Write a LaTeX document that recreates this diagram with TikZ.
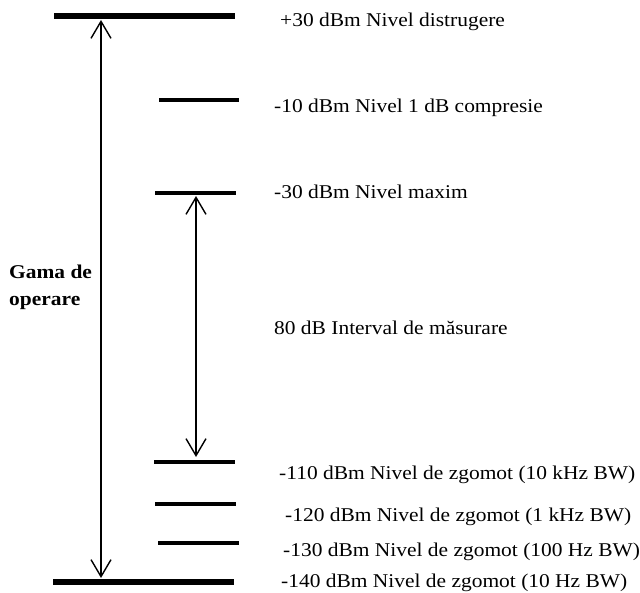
\documentclass[tikz,border=0pt]{standalone}
\usepackage{fontspec}
\setmainfont[FakeStretch=1.1]{Liberation Serif}
\usetikzlibrary{arrows.meta}
\begin{document}
\begin{tikzpicture}[x=1pt,y=-1pt,
  thickbar/.style={line width=6pt},
  thinbar/.style={line width=4pt},
  dimarrow/.style={line width=1.4pt,{Straight Barb[length=17pt,width=20pt,line width=1.4pt]}-{Straight Barb[length=17pt,width=20pt,line width=1.4pt]}},
  lbl/.style={anchor=base west,inner sep=0pt,font=\fontsize{19.5}{27}\selectfont},
  side/.style={anchor=base west,inner sep=0pt,align=left,font=\fontsize{19.5}{27}\selectfont\bfseries}]
\useasboundingbox (0,0) rectangle (640,593);
% bars
\coordinate (b1l) at (54,16);  \coordinate (b1r) at (235,16);
\coordinate (b2l) at (159,100); \coordinate (b2r) at (239,100);
\coordinate (b3l) at (155,193); \coordinate (b3r) at (236,193);
\coordinate (b4l) at (154,462); \coordinate (b4r) at (235,462);
\coordinate (b5l) at (155,504); \coordinate (b5r) at (236,504);
\coordinate (b6l) at (158,543); \coordinate (b6r) at (239,543);
\coordinate (b7l) at (53,582);  \coordinate (b7r) at (234,582);
\draw[thickbar] (b1l) -- (b1r);
\draw[thinbar] (b2l) -- (b2r);
\draw[thinbar] (b3l) -- (b3r);
\draw[thinbar] (b4l) -- (b4r);
\draw[thinbar] (b5l) -- (b5r);
\draw[thinbar] (b6l) -- (b6r);
\draw[thickbar] (b7l) -- (b7r);
% arrows
\coordinate (a1t) at (101,20); \coordinate (a1b) at (101,578);
\coordinate (a2t) at (196,196); \coordinate (a2b) at (196,457);
\draw[dimarrow] (a1t) -- (a1b);
\draw[dimarrow] (a2t) -- (a2b);
% labels
\node[lbl] (t1) at (280,27) {+30 dBm Nivel distrugere};
\node[lbl] (t2) at (274,113) {-10 dBm Nivel 1 dB compresie};
\node[lbl] (t3) at (274,199) {-30 dBm Nivel maxim};
\node[lbl] (t4) at (274,335) {80 dB Interval de măsurare};
\node[lbl] (t5) at (279,479) {-110 dBm Nivel de zgomot (10 kHz BW)};
\node[lbl] (t6) at (285,521) {-120 dBm Nivel de zgomot (1 kHz BW)};
\node[lbl] (t7) at (283,556) {-130 dBm Nivel de zgomot (100 Hz BW)};
\node[lbl] (t8) at (281,587) {-140 dBm Nivel de zgomot (10 Hz BW)};
\node[side] (g) at (9,306) {Gama de\\operare};
\end{tikzpicture}
\end{document}
